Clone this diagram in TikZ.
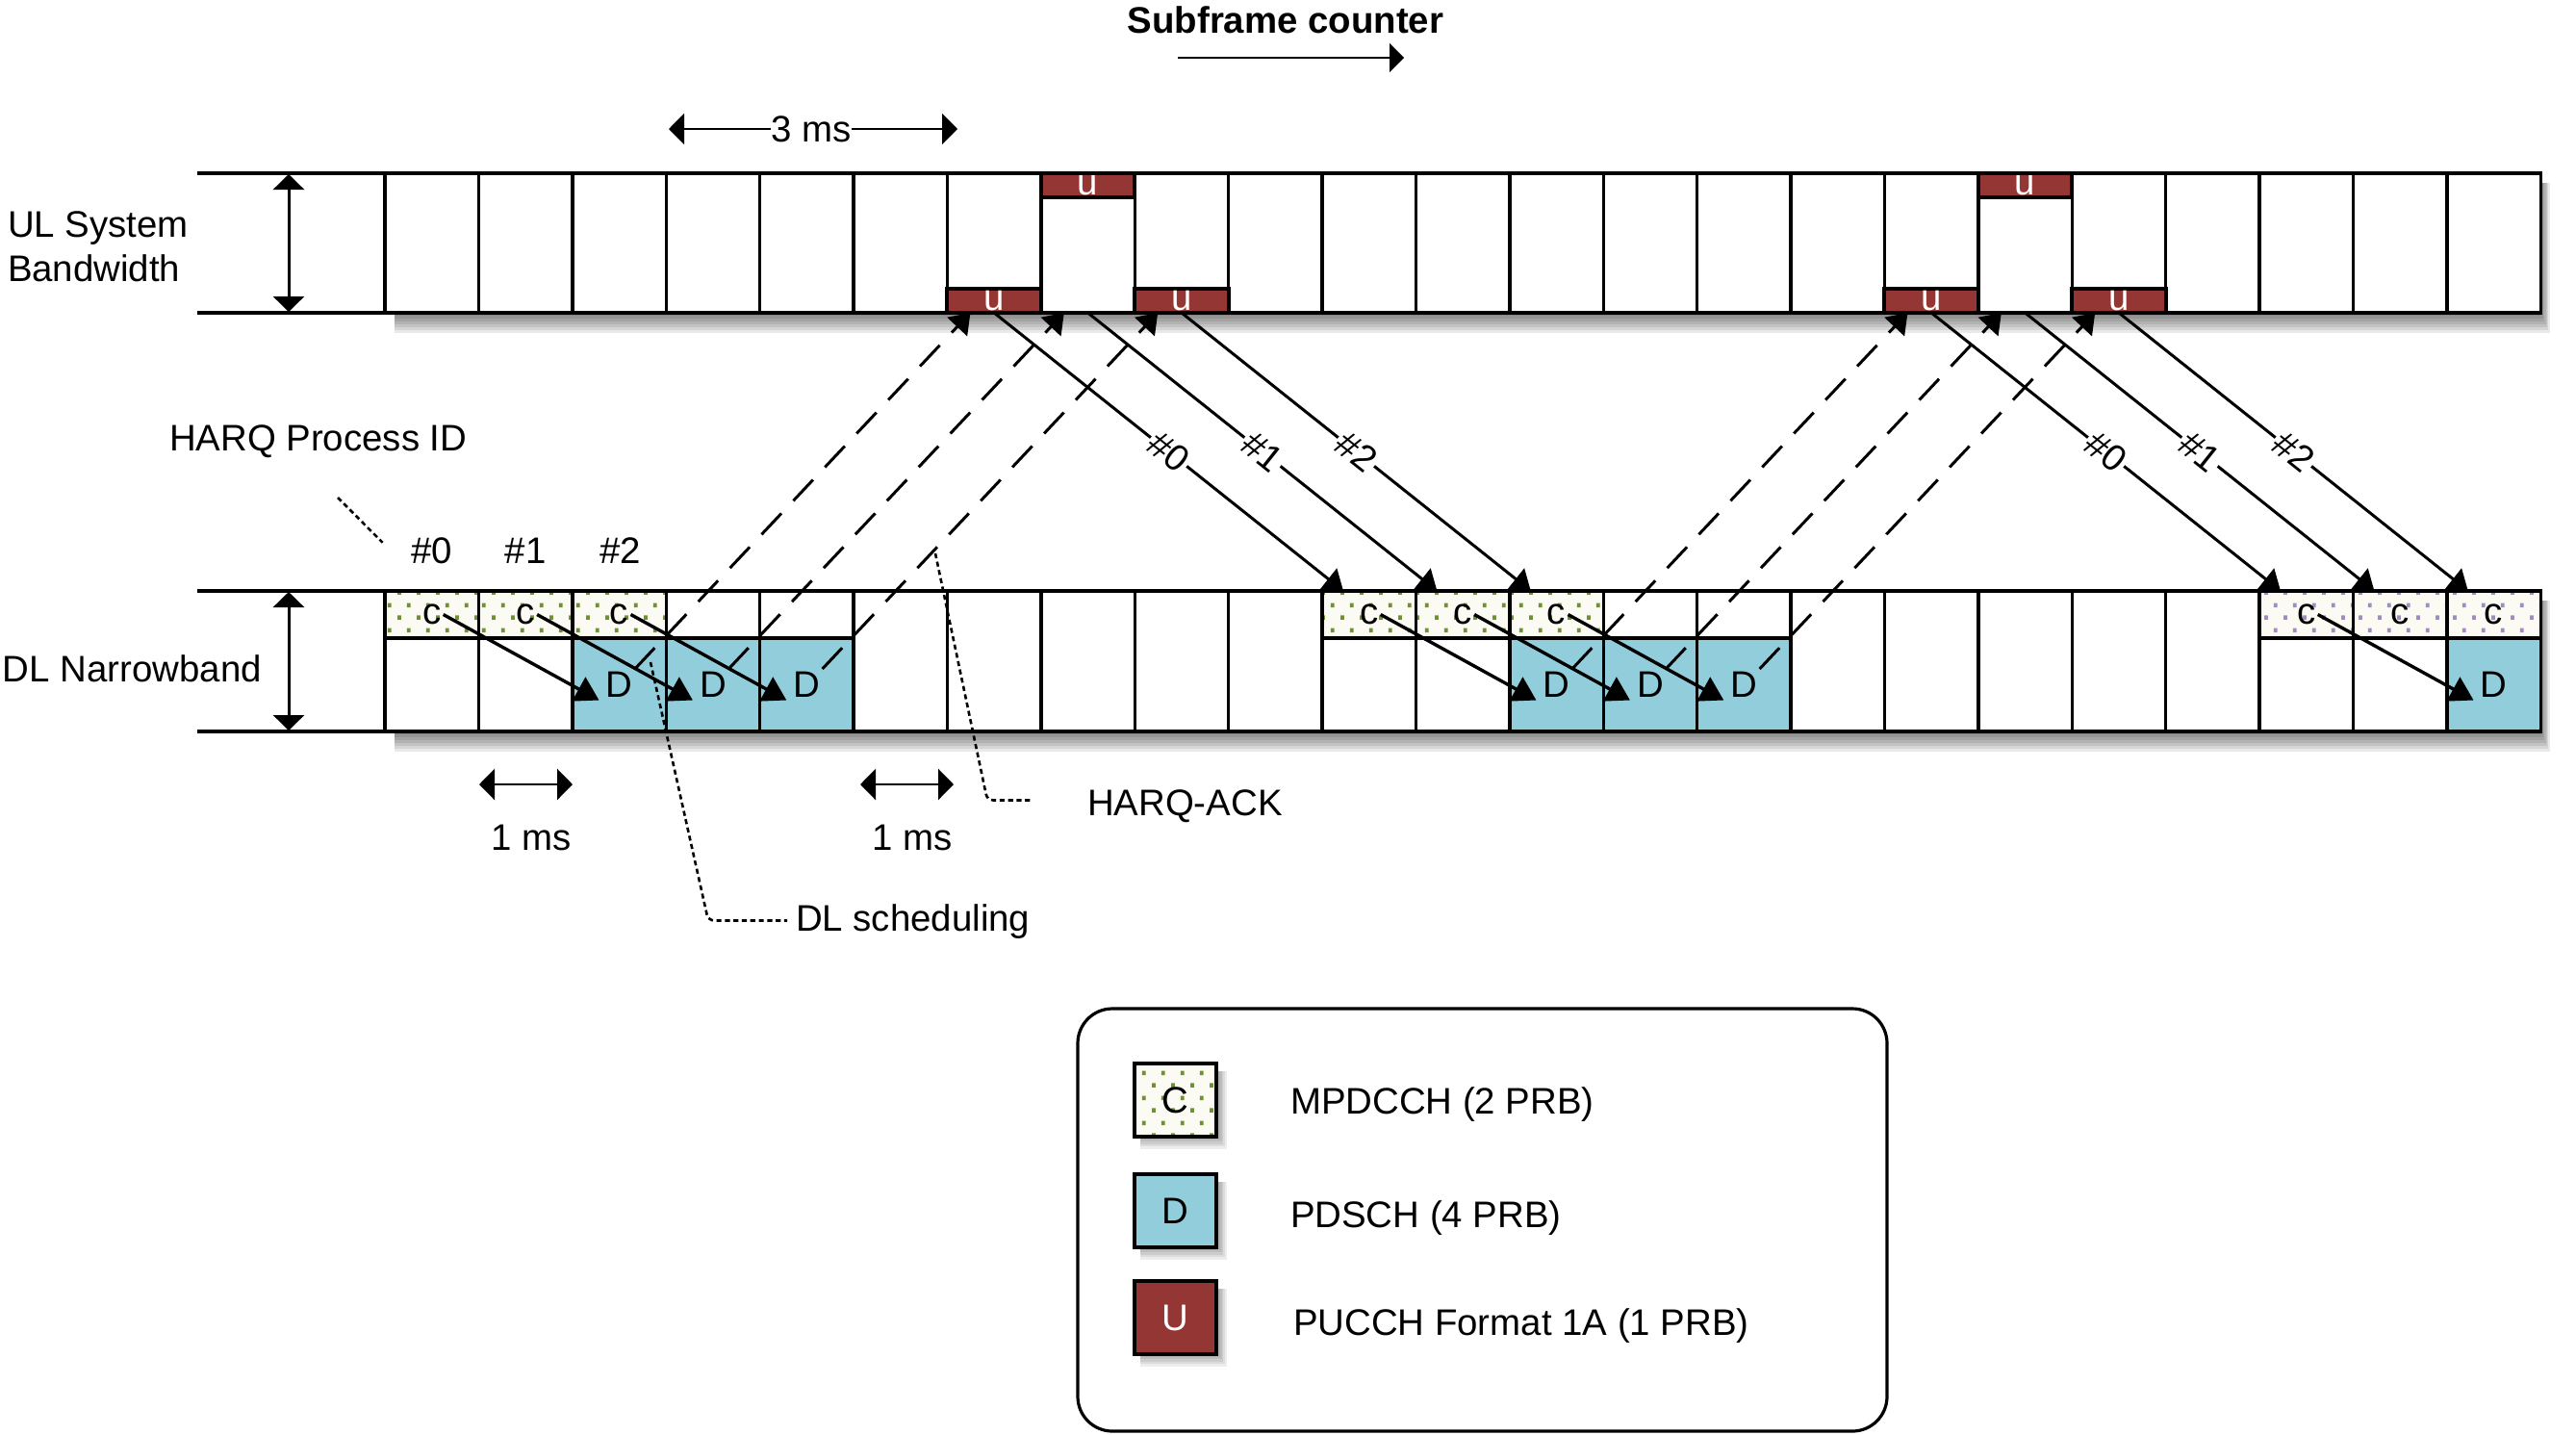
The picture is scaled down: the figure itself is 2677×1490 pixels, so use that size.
\documentclass[tikz,border=0pt]{standalone}
\usepackage{fontspec}
\setmainfont{Liberation Sans}
\usetikzlibrary{arrows.meta,calc,patterns}
\definecolor{ured}{RGB}{148,54,52}
\definecolor{dblue}{RGB}{146,205,220}
\definecolor{cbg}{RGB}{251,251,244}
\definecolor{dgreen}{RGB}{110,145,50}
\definecolor{dpurple}{RGB}{160,140,195}
\pgfdeclarepatternformonly{sdots}{\pgfpointorigin}{\pgfpoint{4.9pt}{6.4pt}}{\pgfpoint{4.9pt}{6.4pt}}{%
  \pgfpathrectangle{\pgfpoint{0.3pt}{0.3pt}}{\pgfpoint{0.95pt}{1.15pt}}%
  \pgfpathrectangle{\pgfpoint{2.75pt}{3.5pt}}{\pgfpoint{0.95pt}{1.15pt}}%
  \pgfusepath{fill}}
\pgfdeclarelayer{sh}
\pgfdeclarelayer{back}
\pgfdeclarelayer{top}
\pgfsetlayers{sh,back,main,top}
\tikzset{
  base/.style={draw, line width=0.85pt, inner sep=0pt, outer sep=0pt, anchor=north west, minimum width=24.35pt},
  ulcell/.style={base, fill=white, minimum height=36.25pt},
  dlcell/.style={base, fill=white, minimum height=36.5pt},
  topw/.style={base, fill=white, minimum height=12.25pt},
  botw/.style={base, fill=white, minimum height=24.25pt},
  ccell/.style={base, minimum height=12.25pt, preaction={fill=cbg}, pattern=sdots, pattern color=dgreen},
  pcell/.style={ccell, pattern color=dpurple},
  dcell/.style={base, fill=dblue, minimum height=24.25pt},
  ublk/.style={base, line width=1pt, fill=ured, text=white, minimum height=6.25pt},
  bandline/.style={line width=1pt},
  tipA/.style={-{Triangle[length=4pt,width=8pt]}},
  tipAA/.style={{Triangle[length=4pt,width=8pt]}-{Triangle[length=4pt,width=8pt]}},
  sarr/.style={line width=0.75pt, -{Triangle[length=5pt,width=7pt]}},
  dsharr/.style={sarr, dash pattern=on 7.5pt off 4.5pt},
  carr/.style={line width=0.85pt, -{Triangle[length=6pt,width=7pt]}},
  lead/.style={line width=0.65pt, dash pattern=on 1.3pt off 0.9pt},
  lbl/.style={sloped, fill=white, inner sep=0.6pt},
  txt/.style={inner sep=0pt, outer sep=0pt},
  lsq/.style={draw, line width=1pt, inner sep=0pt, outer sep=0pt, minimum width=21.25pt, minimum height=19pt, anchor=north west},
}
\begin{document}
\begin{tikzpicture}[x=0.25pt, y=-0.25pt, font=\fontsize{9.6}{11.5}\selectfont]
\useasboundingbox (0,0) rectangle (2677,1490);

% ---------- shadows
\begin{pgfonlayer}{sh}
\foreach \k in {1,...,7}{
  \fill[black, opacity=0.085] (410,190) rectangle ({2640+1.4*\k},{325+3*\k});
  \fill[black, opacity=0.085] (410,624) rectangle ({2640+1.4*\k},{760+3*\k});
}
\foreach \yy in {1105,1220,1331}{
  \foreach \k in {1,...,5}{
    \fill[black, opacity=0.07] (1185,{\yy+8}) rectangle ({1266+1.8*\k},{\yy+76+2.6*\k});
  }
}
\end{pgfonlayer}

% ---------- coordinates
\coordinate (ulL) at (205,180);
\coordinate (ulLb) at (205,325);
\coordinate (dlL) at (205,614);
\coordinate (dlLb) at (205,760);
\coordinate (va1) at (300,181);
\coordinate (va2) at (300,324);
\coordinate (vb1) at (300,615);
\coordinate (vb2) at (300,759);

% ---------- UL band
\begin{pgfonlayer}{top}
\foreach \i in {0,...,22}{\node[ulcell] (ul\i) at ({400+97.4*\i},180) {};}
\foreach \i in {6,8,16,18}{\node[ublk] (u\i) at ({400+97.4*\i},300) {u};}
\foreach \i in {7,17}{\node[ublk] (u\i) at ({400+97.4*\i},180) {u};}
\draw[bandline] (ulL) -- (ul22.north east);
\draw[bandline] (ulLb) -- (ul22.south east);
\end{pgfonlayer}

% ---------- DL band
\foreach \i in {5,...,9,15,16,17,18,19}{\node[dlcell] (dl\i) at ({400+97.4*\i},614) {};}
\foreach \i in {3,4,13,14}{\node[topw] (t\i) at ({400+97.4*\i},614) {};}
\foreach \i in {0,1,10,11,20,21}{\node[botw] (b\i) at ({400+97.4*\i},663) {};}
\foreach \i in {0,1,2,10,11,12}{\node[ccell] (c\i) at ({400+97.4*\i},614) {c};}
\foreach \i in {20,21,22}{\node[pcell] (c\i) at ({400+97.4*\i},614) {c};}
\foreach \i in {2,3,4,12,13,14,22}{\node[dcell] (d\i) at ({400+97.4*\i},663) {D};}
\draw[bandline] (dlL) -- (c22.north east);
\draw[bandline] (dlLb) -- (d22.south east);

% ---------- bandwidth arrows
\draw[tipAA, line width=0.75pt] (va1) -- (va2);
\draw[tipAA, line width=0.75pt] (vb1) -- (vb2);

% ---------- HARQ-ACK arrows UL -> DL (behind)
\begin{pgfonlayer}{back}
\draw[sarr] (ul6.south) -- node[lbl]{\#0} ($(c10.north west)+(22,0)$);
\draw[sarr] (ul7.south) -- node[lbl]{\#1} ($(c11.north west)+(22,0)$);
\draw[sarr] (ul8.south) -- node[lbl]{\#2} ($(c12.north west)+(22,0)$);
\draw[sarr] (ul16.south) -- node[lbl]{\#0} ($(c20.north west)+(22,0)$);
\draw[sarr] (ul17.south) -- node[lbl]{\#1} ($(c21.north west)+(22,0)$);
\draw[sarr] (ul18.south) -- node[lbl]{\#2} ($(c22.north west)+(22,0)$);
\end{pgfonlayer}

% ---------- dashed PDSCH -> PUCCH
\draw[dsharr] ($(d2.north west)+(65,32)$) -- ($(ul6.south west)+(24,0)$);
\draw[dsharr] ($(d3.north west)+(65,32)$) -- ($(ul7.south west)+(24,0)$);
\draw[dsharr] ($(d4.north west)+(65,32)$) -- ($(ul8.south west)+(24,0)$);
\draw[dsharr] ($(d12.north west)+(65,32)$) -- ($(ul16.south west)+(24,0)$);
\draw[dsharr] ($(d13.north west)+(65,32)$) -- ($(ul17.south west)+(24,0)$);
\draw[dsharr] ($(d14.north west)+(65,32)$) -- ($(ul18.south west)+(24,0)$);

% ---------- C -> D arrows
\draw[carr] ($(c0.center)+(12,0)$) -- ($(d2.center)+(-21,16)$);
\draw[carr] ($(c1.center)+(12,0)$) -- ($(d3.center)+(-21,16)$);
\draw[carr] ($(c2.center)+(12,0)$) -- ($(d4.center)+(-21,16)$);
\draw[carr] ($(c10.center)+(12,0)$) -- ($(d12.center)+(-21,16)$);
\draw[carr] ($(c11.center)+(12,0)$) -- ($(d13.center)+(-21,16)$);
\draw[carr] ($(c12.center)+(12,0)$) -- ($(d14.center)+(-21,16)$);
\draw[carr] ($(c20.center)+(12,0)$) -- ($(d22.center)+(-21,16)$);

% ---------- texts
\node[txt, font=\fontsize{9.6}{11.5}\selectfont\bfseries] (sfc) at (1336,21) {Subframe counter};
\coordinate (sfa) at (1224,60);
\coordinate (sfb) at (1459,60);
\draw[line width=0.45pt, -{Triangle[length=3.75pt,width=7.5pt]}] (sfa) -- (sfb);

\node[txt] (ms3) at (843,134) {3 ms};
\coordinate (m3a) at (695,134);
\coordinate (m3b) at (995,134);
\draw[tipA, line width=0.5pt] (ms3.west) -- (m3a);
\draw[tipA, line width=0.5pt] (ms3.east) -- (m3b);

\node[txt, anchor=base west] (uls) at (8,246) {UL System};
\node[txt, anchor=base west] (ulb) at (8,292) {Bandwidth};
\node[txt, anchor=base west] (dln) at (3,708) {DL Narrowband};
\node[txt, anchor=base west] (hpid) at (176,468) {HARQ Process ID};
\node[txt, anchor=base] (h0) at (449,585) {\#0};
\node[txt, anchor=base] (h1) at (546,585) {\#1};
\node[txt, anchor=base] (h2) at (645,585) {\#2};
\coordinate (hpa) at (351,517);
\draw[lead] (hpa) -- ($(h0.west)+(-30,-8)$);

% 1 ms arrows
\coordinate (m1a) at (498,815);
\coordinate (m1b) at (595,815);
\coordinate (m1c) at (894,815);
\coordinate (m1d) at (991,815);
\draw[tipAA, line width=0.65pt] (m1a) -- (m1b);
\draw[tipAA, line width=0.65pt] (m1c) -- (m1d);
\node[txt, anchor=base] (ms1a) at (552,883) {1 ms};
\node[txt, anchor=base] (ms1b) at (948,883) {1 ms};

% leaders
\node[txt, anchor=base west] (dls) at (827,967) {DL scheduling};
\coordinate (dlsa) at (676,688);
\draw[lead, rounded corners=1.5pt] (dlsa) -- ($(dls.mid west)+(-91,0)$) -- ($(dls.mid west)+(-9,0)$);
\node[txt, anchor=base west] (hack) at (1130,847) {HARQ-ACK};
\coordinate (hacka) at (972,575);
\draw[lead, rounded corners=1.5pt] (hacka) -- ($(hack.mid west)+(-104,-5)$) -- ($(hack.mid west)+(-58,-5)$);

% ---------- legend
\node[draw, line width=0.8pt, rounded corners=9pt, inner sep=0pt, outer sep=0pt, anchor=north west,
      minimum width=210.25pt, minimum height=109.75pt] (legend) at (1120,1048) {};
\node[lsq, preaction={fill=cbg}, pattern=sdots, pattern color=dgreen] (lc) at (1179,1105) {C};
\node[lsq, fill=dblue] (ld) at (1179,1220) {D};
\node[lsq, fill=ured, text=white] (lu) at (1179,1331) {U};
\node[txt, anchor=base west] (lct) at (1341,1157) {MPDCCH (2 PRB)};
\node[txt, anchor=base west] (ldt) at (1341,1275) {PDSCH (4 PRB)};
\node[txt, anchor=base west] (lut) at (1344,1387) {PUCCH Format 1A (1 PRB)};
\end{tikzpicture}
\end{document}
